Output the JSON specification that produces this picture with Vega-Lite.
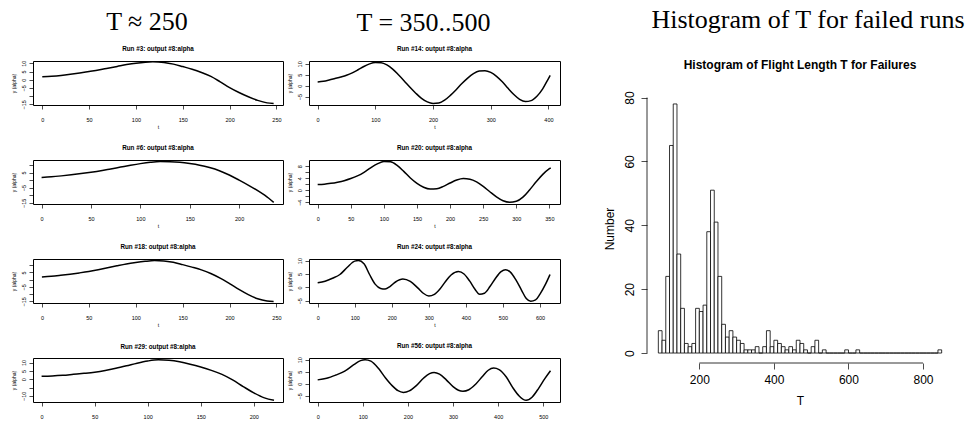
{
  "$schema": "https://vega.github.io/schema/vega-lite/v6.json",
  "padding": {"left": 10, "top": 6, "right": 0, "bottom": 0},
  "background": "white",
  "config": {
    "view": {"stroke": "black", "strokeWidth": 1},
    "axis": {"domain": false, "grid": false, "tickColor": "black", "tickSize": 4, "tickWidth": 0.7, "labelFont": "Liberation Sans", "titleFont": "Liberation Sans", "labelColor": "black", "titleColor": "black", "labelFontSize": 5.5, "titleFontSize": 5, "titleFontWeight": "normal", "labelFlush": false, "labelOverlap": false},
    "axisX": {"labelPadding": 8, "titlePadding": 2, "labelAngle": 0},
    "axisY": {"labelAngle": -90, "labelAlign": "center", "labelBaseline": "bottom", "labelPadding": 3, "titlePadding": 5},
    "title": {"font": "Liberation Sans", "fontSize": 6.3, "fontWeight": "bold", "offset": 7, "anchor": "middle", "color": "black"},
    "line": {"color": "black", "strokeWidth": 1.5, "interpolate": "monotone"}
  },
  "hconcat": [
    {
      "hconcat": [
        {
          "title": {"text": "T ≈ 250", "font": "Liberation Serif", "fontSize": 26, "fontWeight": "normal", "offset": 10, "anchor": "middle"},
          "bounds": "flush",
          "spacing": 55,
          "vconcat": [
            {
              "width": 250, "height": 44,
              "title": "Run #3: output #8:alpha",
              "data": {"values": [{"t":0,"y":1.8},{"t":10,"y":2.1},{"t":20,"y":2.6},{"t":30,"y":3.3},{"t":40,"y":4.1},{"t":50,"y":5.0},{"t":60,"y":5.9},{"t":70,"y":7.0},{"t":80,"y":8.1},{"t":90,"y":9.2},{"t":100,"y":10.1},{"t":110,"y":10.7},{"t":118,"y":10.9},{"t":130,"y":10.5},{"t":140,"y":9.5},{"t":150,"y":8.0},{"t":160,"y":6.4},{"t":170,"y":4.4},{"t":180,"y":2.0},{"t":190,"y":-1.3},{"t":200,"y":-4.8},{"t":210,"y":-7.8},{"t":220,"y":-10.4},{"t":230,"y":-12.6},{"t":240,"y":-14.1},{"t":247,"y":-14.5}]},
              "mark": {"type": "line"},
              "encoding": {
                "x": {"field": "t", "type": "quantitative", "scale": {"domain": [-9.9, 257], "nice": false, "zero": false}, "axis": {"values": [0,50,100,150,200,250], "title": "t"}},
                "y": {"field": "y", "type": "quantitative", "scale": {"domain": [-15.4, 11.4], "nice": false, "zero": false}, "axis": {"values": [-15,-10,-5,0,5,10], "labelExpr": "datum.value == -10 ? '' : datum.label", "title": "y (alpha)"}}
              }
            },
            {
              "width": 250, "height": 44,
              "title": "Run #6: output #8:alpha",
              "data": {"values": [{"t":0,"y":1.8},{"t":10,"y":2.2},{"t":20,"y":2.8},{"t":30,"y":3.5},{"t":40,"y":4.3},{"t":50,"y":5.2},{"t":60,"y":6.2},{"t":70,"y":7.4},{"t":80,"y":8.6},{"t":90,"y":9.8},{"t":100,"y":10.9},{"t":110,"y":11.8},{"t":120,"y":12.3},{"t":130,"y":12.2},{"t":140,"y":11.8},{"t":150,"y":11.0},{"t":160,"y":9.9},{"t":170,"y":8.3},{"t":180,"y":6.2},{"t":190,"y":3.4},{"t":200,"y":0.0},{"t":210,"y":-3.6},{"t":220,"y":-7.5},{"t":230,"y":-12.0},{"t":235,"y":-14.7}]},
              "mark": {"type": "line"},
              "encoding": {
                "x": {"field": "t", "type": "quantitative", "scale": {"domain": [-8.7, 244.4], "nice": false, "zero": false}, "axis": {"values": [0,50,100,150,200], "title": "t"}},
                "y": {"field": "y", "type": "quantitative", "scale": {"domain": [-15.8, 13.3], "nice": false, "zero": false}, "axis": {"values": [-15,-10,-5,0,5,10], "labelExpr": "(datum.value == -10 || datum.value == 0 || datum.value == 10) ? '' : datum.label", "title": "y (alpha)"}}
              }
            },
            {
              "width": 250, "height": 44,
              "title": "Run #18: output #8:alpha",
              "data": {"values": [{"t":0,"y":1.9},{"t":10,"y":2.3},{"t":20,"y":3.0},{"t":30,"y":3.8},{"t":40,"y":4.7},{"t":50,"y":5.7},{"t":60,"y":6.9},{"t":70,"y":8.2},{"t":80,"y":9.6},{"t":90,"y":10.9},{"t":100,"y":11.9},{"t":110,"y":12.7},{"t":120,"y":13.2},{"t":130,"y":13.0},{"t":140,"y":12.0},{"t":150,"y":10.4},{"t":160,"y":8.7},{"t":170,"y":6.8},{"t":180,"y":4.3},{"t":190,"y":1.1},{"t":200,"y":-2.7},{"t":210,"y":-6.7},{"t":220,"y":-10.3},{"t":230,"y":-13.2},{"t":240,"y":-14.7},{"t":247,"y":-15.0}]},
              "mark": {"type": "line"},
              "encoding": {
                "x": {"field": "t", "type": "quantitative", "scale": {"domain": [-9.5, 257], "nice": false, "zero": false}, "axis": {"values": [0,50,100,150,200,250], "title": "t"}},
                "y": {"field": "y", "type": "quantitative", "scale": {"domain": [-16.1, 14.3], "nice": false, "zero": false}, "axis": {"values": [-15,-10,-5,0,5,10], "labelExpr": "(datum.value == -10 || datum.value == 0 || datum.value == 10) ? '' : datum.label", "title": "y (alpha)"}}
              }
            },
            {
              "width": 250, "height": 44,
              "title": "Run #29: output #8:alpha",
              "data": {"values": [{"t":0,"y":1.7},{"t":10,"y":1.9},{"t":20,"y":2.3},{"t":30,"y":2.9},{"t":40,"y":3.5},{"t":50,"y":4.2},{"t":60,"y":5.2},{"t":70,"y":6.5},{"t":80,"y":8.0},{"t":90,"y":9.6},{"t":100,"y":10.9},{"t":110,"y":11.6},{"t":120,"y":11.3},{"t":130,"y":10.4},{"t":140,"y":9.0},{"t":150,"y":7.3},{"t":160,"y":5.3},{"t":170,"y":2.9},{"t":180,"y":-0.4},{"t":190,"y":-4.4},{"t":200,"y":-8.2},{"t":210,"y":-11.2},{"t":219,"y":-12.6}]},
              "mark": {"type": "line"},
              "encoding": {
                "x": {"field": "t", "type": "quantitative", "scale": {"domain": [-8.1, 227.5], "nice": false, "zero": false}, "axis": {"values": [0,50,100,150,200], "title": null}},
                "y": {"field": "y", "type": "quantitative", "scale": {"domain": [-13.65, 12.7], "nice": false, "zero": false}, "axis": {"values": [-10,-5,0,5,10], "labelExpr": "datum.value == -5 ? '' : datum.label", "title": "y (alpha)"}}
              }
            }
          ]
        },
        {
          "title": {"text": "T = 350..500", "font": "Liberation Serif", "fontSize": 26, "fontWeight": "normal", "offset": 10, "anchor": "middle"},
          "bounds": "flush",
          "spacing": 55,
          "vconcat": [
            {
              "width": 251, "height": 44,
              "title": "Run #14: output #8:alpha",
              "data": {"values": [{"t":0,"y":1.7},{"t":10,"y":2.0},{"t":20,"y":2.6},{"t":30,"y":3.3},{"t":40,"y":4.0},{"t":50,"y":4.8},{"t":60,"y":5.9},{"t":70,"y":7.3},{"t":80,"y":8.8},{"t":90,"y":10.0},{"t":100,"y":10.6},{"t":110,"y":10.5},{"t":120,"y":9.5},{"t":130,"y":7.6},{"t":140,"y":5.0},{"t":150,"y":2.2},{"t":160,"y":-0.7},{"t":170,"y":-3.4},{"t":180,"y":-5.8},{"t":190,"y":-7.4},{"t":200,"y":-8.1},{"t":210,"y":-7.9},{"t":220,"y":-6.6},{"t":230,"y":-4.4},{"t":240,"y":-1.8},{"t":250,"y":1.0},{"t":260,"y":3.5},{"t":270,"y":5.5},{"t":280,"y":6.7},{"t":290,"y":6.9},{"t":300,"y":6.1},{"t":310,"y":4.3},{"t":320,"y":1.8},{"t":330,"y":-1.2},{"t":340,"y":-4.0},{"t":350,"y":-6.2},{"t":360,"y":-7.2},{"t":370,"y":-6.8},{"t":380,"y":-4.8},{"t":390,"y":-1.4},{"t":400,"y":3.3},{"t":403,"y":4.7}]},
              "mark": {"type": "line"},
              "encoding": {
                "x": {"field": "t", "type": "quantitative", "scale": {"domain": [-15, 420], "nice": false, "zero": false}, "axis": {"values": [0,100,200,300,400], "title": "t"}},
                "y": {"field": "y", "type": "quantitative", "scale": {"domain": [-8.8, 11.3], "nice": false, "zero": false}, "axis": {"values": [-5,0,5,10], "title": "y (alpha)"}}
              }
            },
            {
              "width": 251, "height": 44,
              "title": "Run #20: output #8:alpha",
              "data": {"values": [{"t":0,"y":1.9},{"t":10,"y":2.0},{"t":20,"y":2.3},{"t":30,"y":2.7},{"t":40,"y":3.2},{"t":50,"y":3.9},{"t":60,"y":4.8},{"t":70,"y":6.0},{"t":80,"y":7.5},{"t":90,"y":8.8},{"t":100,"y":9.6},{"t":110,"y":9.5},{"t":120,"y":8.3},{"t":130,"y":6.3},{"t":140,"y":4.1},{"t":150,"y":2.3},{"t":160,"y":1.0},{"t":170,"y":0.4},{"t":180,"y":0.5},{"t":190,"y":1.3},{"t":200,"y":2.4},{"t":210,"y":3.4},{"t":220,"y":3.9},{"t":230,"y":3.7},{"t":240,"y":2.8},{"t":250,"y":1.3},{"t":260,"y":-0.5},{"t":270,"y":-2.2},{"t":280,"y":-3.5},{"t":290,"y":-4.0},{"t":300,"y":-3.7},{"t":310,"y":-2.3},{"t":320,"y":0.1},{"t":330,"y":2.8},{"t":340,"y":5.3},{"t":350,"y":7.2},{"t":352,"y":7.5}]},
              "mark": {"type": "line"},
              "encoding": {
                "x": {"field": "t", "type": "quantitative", "scale": {"domain": [-13.1, 366], "nice": false, "zero": false}, "axis": {"values": [0,50,100,150,200,250,300,350], "title": "t"}},
                "y": {"field": "y", "type": "quantitative", "scale": {"domain": [-4.6, 10.1], "nice": false, "zero": false}, "axis": {"values": [-4,-2,0,2,4,6,8], "labelExpr": "(datum.value == -2 || datum.value == 2 || datum.value == 6) ? '' : datum.label", "title": "y (alpha)"}}
              }
            },
            {
              "width": 251, "height": 44,
              "title": "Run #24: output #8:alpha",
              "data": {"values": [{"t":0,"y":1.7},{"t":20,"y":2.3},{"t":40,"y":3.4},{"t":60,"y":4.8},{"t":80,"y":7.5},{"t":100,"y":9.8},{"t":110,"y":10.0},{"t":125,"y":8.8},{"t":140,"y":4.8},{"t":155,"y":1.2},{"t":170,"y":-0.4},{"t":182,"y":-0.6},{"t":195,"y":0.3},{"t":210,"y":2.0},{"t":230,"y":3.1},{"t":250,"y":2.2},{"t":270,"y":-0.2},{"t":285,"y":-2.2},{"t":300,"y":-3.2},{"t":315,"y":-2.6},{"t":330,"y":-0.6},{"t":345,"y":2.2},{"t":360,"y":4.6},{"t":380,"y":5.9},{"t":395,"y":5.0},{"t":410,"y":2.4},{"t":425,"y":-0.8},{"t":437,"y":-2.6},{"t":450,"y":-2.2},{"t":465,"y":0.3},{"t":480,"y":3.4},{"t":495,"y":5.9},{"t":507,"y":6.6},{"t":520,"y":5.7},{"t":535,"y":2.8},{"t":550,"y":-1.0},{"t":563,"y":-4.2},{"t":575,"y":-5.2},{"t":588,"y":-4.7},{"t":600,"y":-2.5},{"t":615,"y":1.2},{"t":627,"y":4.8}]},
              "mark": {"type": "line"},
              "encoding": {
                "x": {"field": "t", "type": "quantitative", "scale": {"domain": [-23.4, 654], "nice": false, "zero": false}, "axis": {"values": [0,100,200,300,400,500,600], "title": "t"}},
                "y": {"field": "y", "type": "quantitative", "scale": {"domain": [-5.85, 10.6], "nice": false, "zero": false}, "axis": {"values": [-5,0,5,10], "title": "y (alpha)"}}
              }
            },
            {
              "width": 251, "height": 44,
              "title": "Run #56: output #8:alpha",
              "data": {"values": [{"t":0,"y":1.6},{"t":20,"y":2.3},{"t":40,"y":3.6},{"t":60,"y":5.2},{"t":80,"y":7.9},{"t":95,"y":9.6},{"t":105,"y":10.0},{"t":118,"y":9.4},{"t":135,"y":6.3},{"t":150,"y":2.5},{"t":165,"y":-0.8},{"t":178,"y":-2.9},{"t":190,"y":-3.6},{"t":203,"y":-3.0},{"t":218,"y":-0.9},{"t":235,"y":2.4},{"t":248,"y":4.2},{"t":258,"y":4.7},{"t":270,"y":4.0},{"t":285,"y":1.6},{"t":300,"y":-1.2},{"t":312,"y":-2.7},{"t":322,"y":-3.1},{"t":335,"y":-2.5},{"t":350,"y":-0.2},{"t":365,"y":3.0},{"t":378,"y":5.6},{"t":390,"y":6.5},{"t":402,"y":5.9},{"t":418,"y":2.8},{"t":432,"y":-1.5},{"t":447,"y":-5.2},{"t":462,"y":-6.9},{"t":475,"y":-5.6},{"t":490,"y":-1.8},{"t":503,"y":2.0},{"t":516,"y":5.4}]},
              "mark": {"type": "line"},
              "encoding": {
                "x": {"field": "t", "type": "quantitative", "scale": {"domain": [-19.2, 537], "nice": false, "zero": false}, "axis": {"values": [0,100,200,300,400,500], "title": null}},
                "y": {"field": "y", "type": "quantitative", "scale": {"domain": [-7.6, 10.7], "nice": false, "zero": false}, "axis": {"values": [-5,0,5,10], "title": "y (alpha)"}}
              }
            }
          ]
        }
      ],
      "spacing": 2
    },
    {
      "bounds": "flush",
      "spacing": 32,
      "vconcat": [
        {
          "width": 306, "height": 1,
          "view": {"stroke": null},
          "title": {"text": "Histogram of T for failed runs", "font": "Liberation Serif", "fontSize": 26, "fontWeight": "normal", "offset": 26, "anchor": "middle", "frame": "group", "dx": 8},
          "data": {"values": [{}]},
          "mark": {"type": "point", "opacity": 0},
          "encoding": {}
        },
        {
          "width": 306, "height": 269,
          "view": {"stroke": null},
          "title": {"text": "Histogram of Flight Length T for Failures", "font": "Liberation Sans", "fontSize": 12, "fontWeight": "bold", "offset": 19, "anchor": "middle", "frame": "group"},
          "data": {"values": [
            {"start":90,"end":100,"count":7},{"start":100,"end":110,"count":4},{"start":110,"end":120,"count":24},{"start":120,"end":130,"count":65},{"start":130,"end":140,"count":78},{"start":140,"end":150,"count":31},{"start":150,"end":160,"count":14},{"start":160,"end":170,"count":3},{"start":170,"end":180,"count":2},{"start":180,"end":190,"count":3},{"start":190,"end":200,"count":14},{"start":200,"end":210,"count":13},{"start":210,"end":220,"count":15},{"start":220,"end":230,"count":38},{"start":230,"end":240,"count":51},{"start":240,"end":250,"count":41},{"start":250,"end":260,"count":24},{"start":260,"end":270,"count":9},{"start":270,"end":280,"count":5},{"start":280,"end":290,"count":7},{"start":290,"end":300,"count":5},{"start":300,"end":310,"count":4},{"start":310,"end":320,"count":3},{"start":320,"end":330,"count":1},{"start":330,"end":340,"count":1},{"start":340,"end":350,"count":1},{"start":350,"end":360,"count":2},{"start":360,"end":370,"count":0},{"start":370,"end":380,"count":2},{"start":380,"end":390,"count":7},{"start":390,"end":400,"count":2},{"start":400,"end":410,"count":4},{"start":410,"end":420,"count":3},{"start":420,"end":430,"count":2},{"start":430,"end":440,"count":1},{"start":440,"end":450,"count":2},{"start":450,"end":460,"count":1},{"start":460,"end":470,"count":4},{"start":470,"end":480,"count":3},{"start":480,"end":490,"count":1},{"start":490,"end":500,"count":0},{"start":500,"end":510,"count":2},{"start":510,"end":520,"count":4},{"start":520,"end":530,"count":0},{"start":530,"end":540,"count":1},{"start":540,"end":550,"count":0},{"start":550,"end":560,"count":0},{"start":560,"end":570,"count":0},{"start":570,"end":580,"count":0},{"start":580,"end":590,"count":0},{"start":590,"end":600,"count":1},{"start":600,"end":610,"count":0},{"start":610,"end":620,"count":0},{"start":620,"end":630,"count":1},{"start":630,"end":640,"count":0},{"start":640,"end":650,"count":0},{"start":650,"end":660,"count":0},{"start":660,"end":670,"count":0},{"start":670,"end":680,"count":0},{"start":680,"end":690,"count":0},{"start":690,"end":700,"count":0},{"start":700,"end":710,"count":0},{"start":710,"end":720,"count":0},{"start":720,"end":730,"count":0},{"start":730,"end":740,"count":0},{"start":740,"end":750,"count":0},{"start":750,"end":760,"count":0},{"start":760,"end":770,"count":0},{"start":770,"end":780,"count":0},{"start":780,"end":790,"count":0},{"start":790,"end":800,"count":0},{"start":800,"end":810,"count":0},{"start":810,"end":820,"count":0},{"start":820,"end":830,"count":0},{"start":830,"end":840,"count":0},{"start":840,"end":850,"count":1}
          ]},
          "layer": [
            {
              "mark": {"type": "rect", "fill": "white", "stroke": "black", "strokeWidth": 0.8},
              "encoding": {
                "x": {"field": "start", "type": "quantitative", "scale": {"domain": [59.6, 880.4], "nice": false, "zero": false}, "axis": {"values": [200,400,600,800], "title": "T", "labelFontSize": 12, "titleFontSize": 12, "tickSize": 6, "labelPadding": 5, "titlePadding": 10}},
                "x2": {"field": "end"},
                "y": {"field": "count", "type": "quantitative", "scale": {"domain": [-3.12, 81.12], "nice": false, "zero": false}, "axis": {"values": [0,20,40,60,80], "title": "Number", "labelFontSize": 12, "titleFontSize": 12, "tickSize": 6, "labelPadding": 5, "titlePadding": 7}},
                "y2": {"datum": 0}
              }
            },
            {
              "data": {"values": [{}]},
              "mark": {"type": "rule", "color": "black", "strokeWidth": 0.8},
              "encoding": {"x": {"datum": 200}, "x2": {"datum": 800}, "y": {"datum": -3.12}}
            },
            {
              "data": {"values": [{}]},
              "mark": {"type": "rule", "color": "black", "strokeWidth": 0.8},
              "encoding": {"x": {"datum": 59.6}, "y": {"datum": 0}, "y2": {"datum": 80}}
            }
          ]
        }
      ]
    }
  ],
  "spacing": 42
}
